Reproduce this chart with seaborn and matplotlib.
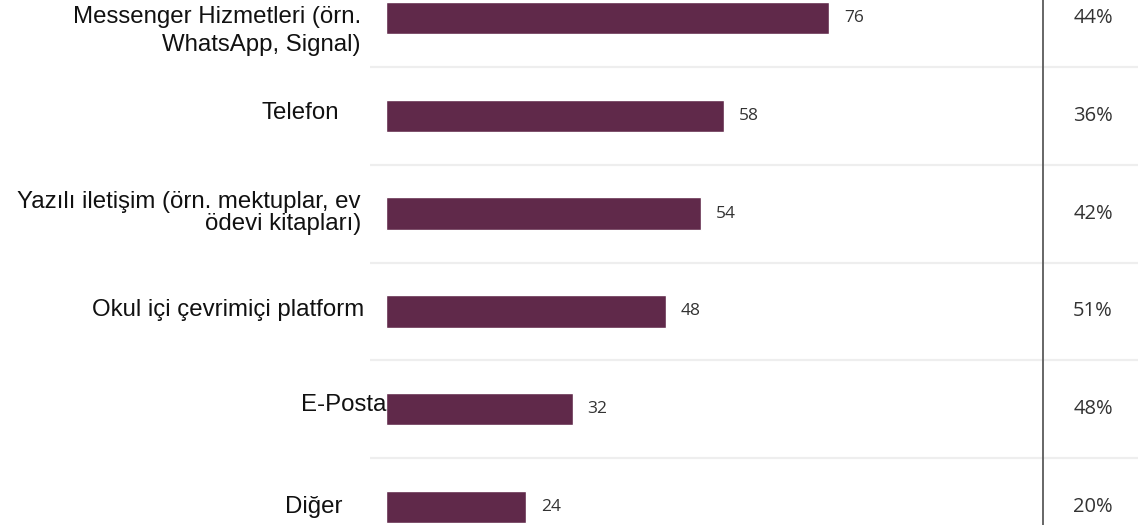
import matplotlib
matplotlib.use('Agg')
import matplotlib.pyplot as plt
import seaborn as sns
import pandas as pd

categories = ['Messenger Hizmetleri (örn.\nWhatsApp, Signal)',
              'Telefon',
              'Yazılı iletişim (örn. mektuplar, ev\nödevi kitapları)',
              'Okul içi çevrimiçi platform',
              'E-Posta',
              'Diğer']
values = [76, 58, 54, 48, 32, 24]
shares = ['44%', '36%', '42%', '51%', '48%', '20%']

df = pd.DataFrame({'cat': categories, 'val': values})

# label placement, in pixels relative to the bar start (layout only)
label_dx = [-25, -47, -25, -22, 0, -43]
label_dy = [-13, 3, 1, 1, 4, 0]
label_ls = [1.32, 1.0, 1.0, 1.0, 1.0, 1.0]

sns.set_style('white')
fig = plt.figure(figsize=(11.38, 5.25), dpi=100)
ax = fig.add_axes([370 / 1138, 0, 768 / 1138, 1])

sns.barplot(data=df, x='val', y='cat', orient='h', color='#60294a',
            width=0.33, saturation=1, ax=ax)

ax.set_xlim(-2.74, 129.0)
ax.set_ylim(5.184, -0.184)
ax.set_axis_off()

for i in range(len(categories) - 1):
    ax.axhline(i + 0.5, color='#eeeeee', lw=1.6, zorder=0)
ax.axvline(112.7, color='#666666', lw=1.4)

for i, (c, v, s) in enumerate(zip(categories, values, shares)):
    ax.annotate(c, xy=(0, i), xytext=(label_dx[i], label_dy[i]),
                textcoords='offset pixels', ha='right', va='center',
                fontsize=17.3, family='Liberation Sans', color='#111111',
                multialignment='right', linespacing=label_ls[i])
    ax.annotate(str(v), xy=(v, i), xytext=(15, 0), textcoords='offset pixels',
                ha='left', va='center', fontsize=12.5, family='Open Sans',
                color='#333333')
    ax.text(121.3, i, s, ha='center', va='center', fontsize=14.5,
            family='Open Sans', color='#333333')

fig.savefig('out.png', dpi=100)
